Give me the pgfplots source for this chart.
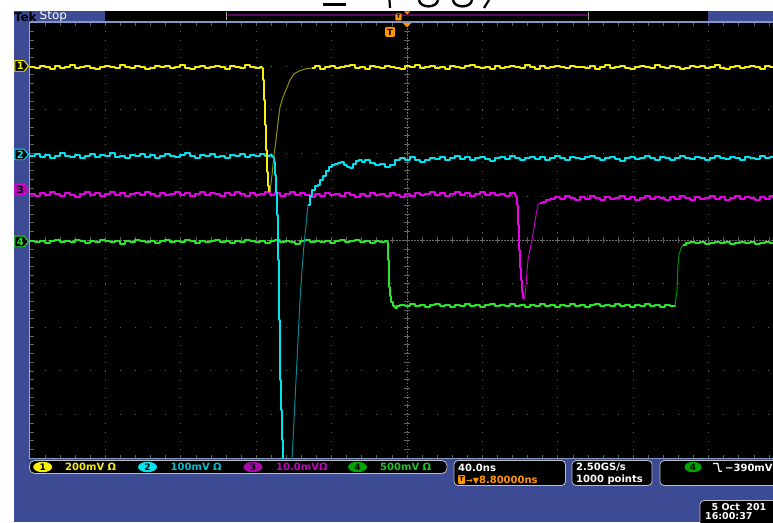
\documentclass[border=0pt]{standalone}
\usepackage{pgfplots}
\pgfplotsset{compat=1.18}
\usepackage{fontspec}
\setmainfont{DejaVu Sans}
\definecolor{tekblue}{RGB}{61,74,148}
\definecolor{tekbord}{RGB}{130,150,195}
\definecolor{gridc}{RGB}{95,95,95}
\definecolor{chA}{RGB}{245,240,10}
\definecolor{chAd}{RGB}{150,145,0}
\definecolor{chB}{RGB}{0,228,240}
\definecolor{chBd}{RGB}{0,135,145}
\definecolor{chC}{RGB}{235,0,235}
\definecolor{chCd}{RGB}{200,0,200}
\definecolor{chD}{RGB}{40,230,40}
\definecolor{chDd}{RGB}{0,150,0}
\definecolor{tekorange}{RGB}{255,150,0}
\definecolor{badgeC}{RGB}{170,10,170}
\definecolor{badgeD}{RGB}{0,165,0}
\definecolor{boxline}{RGB}{190,190,200}
\definecolor{recpurple}{RGB}{90,10,90}
\newcommand{\tekfont}{\fontsize{10}{12}\selectfont\bfseries}
\newcommand{\chmark}[5]{%
 \filldraw[draw=#2, fill=#3, line width=0.9pt] (14.8,#1-5.3) -- (24,#1-5.3) -- (28.5,#1) -- (24,#1+5.3) -- (14.8,#1+5.3) -- cycle;
 \node[text=#4, font=\fontsize{10}{10}\selectfont\bfseries, inner sep=0] at (20.3,#1+0.3) {#5};}
\newcommand{\badge}[4]{%
 \fill[#3] (#1,#2) ellipse (9.5 and 5.2);
 \node[text=black, font=\fontsize{9}{9}\selectfont\bfseries, inner sep=0] at (#1,#2+0.2) {#4};}
\begin{document}
\begin{tikzpicture}[x=1pt,y=1pt]
\useasboundingbox (0,0) rectangle (773,522);
\clip (0,0) rectangle (773,522);
\fill[white] (0,0) rectangle (773,522);
\begin{scope}[shift={(0,522)},yscale=-1]
 % partial title glyphs at the very top
 \draw[black, line width=2.4pt] (323,4.5) -- (346,4.5);
 \draw[black, line width=2.2pt] (389.5,0) -- (390,8);
 \draw[black, line width=2.4pt] (419,0) .. controls (420,8.5) and (437,8.5) .. (438,0);
 \draw[black, line width=2.4pt] (453,0) .. controls (454,8.5) and (471,8.5) .. (472,0);
 \draw[black, line width=2.2pt] (484,8) -- (489,0);
 % frame
 \fill[tekblue] (14,11) rectangle (773,522);
 \fill[black] (105,11.5) rectangle (708,21.5);
 \fill[black] (30,22.5) rectangle (773,458);
 % top bar
 \node[anchor=west, inner sep=0, text=black, font=\fontsize{12}{12}\selectfont\bfseries] at (13.8,17) {Tek};
 \node[anchor=west, inner sep=0, text=white, font=\fontsize{12}{12}\selectfont] at (39.5,16.3) {Stop};
 \draw[gray!70, line width=0.8pt] (226.5,12.5) -- (226.5,20.5);
 \draw[gray!70, line width=0.8pt] (588,12.5) -- (588,20.5);
 \draw[recpurple, line width=2pt] (228,15.5) -- (587,15.5);
 \fill[tekorange] (404,11.5) -- (410,11.5) -- (407,14.5) -- cycle;
 \fill[tekorange, rounded corners=1pt] (395.3,13.5) rectangle (401.5,20.5);
 \node[text=black, font=\fontsize{5.5}{6}\selectfont\bfseries, inner sep=0] at (398.4,17) {T};
 % graticule
 \foreach \k in {1,...,9} {
  \draw[gridc, line width=1pt, dash pattern=on 1pt off 7.71pt] ({30+75.4*\k},22.5) -- ({30+75.4*\k},458);
  \draw[gridc, line width=1pt, dash pattern=on 1pt off 14.08pt] (29.5,{22.5+43.55*\k}) -- (773,{22.5+43.55*\k});
 }
 \draw[gridc!90, line width=0.6pt, dash pattern=on 1.5pt off 1.5pt] (407,22.5) -- (407,458);
 \draw[gridc!90, line width=0.6pt, dash pattern=on 1.5pt off 1.5pt] (30,240.25) -- (773,240.25);
 \foreach \m in {1,...,49} {
  \draw[gridc, line width=0.7pt] (404.3,{22.5+8.71*\m}) -- (409.7,{22.5+8.71*\m});
  \draw[gridc, line width=0.7pt] ({30+15.08*\m},237.5) -- ({30+15.08*\m},243);
  \draw[gridc, line width=0.7pt] ({30+15.08*\m},22.5) -- ++(0,3.5);
  \draw[gridc, line width=0.7pt] ({30+15.08*\m},458) -- ++(0,-3.5);
  \draw[gridc, line width=0.7pt] (30,{22.5+8.71*\m}) -- ++(3.5,0);
 }
 % borders
 \draw[tekbord, line width=1.3pt] (29.5,22) -- (773,22);
 \draw[tekbord, line width=1.3pt] (29.5,458.6) -- (773,458.6);
 \draw[tekbord!80!white, line width=1.2pt] (29.5,22) -- (29.5,458.6);
 % trigger markers
 \fill[tekorange] (402.5,22.8) -- (411.5,22.8) -- (407,27.5) -- cycle;
 \fill[tekorange, rounded corners=1.5pt] (385,27) rectangle (395,37);
 \node[text=black, font=\fontsize{8.5}{9}\selectfont\bfseries, inner sep=0] at (390,32) {T};
 % channel markers
 \chmark{66}{chA}{black}{chA}{1}
 \chmark{154.5}{chB}{black}{chB}{2}
 \chmark{189.5}{chC}{badgeC}{black}{3}
 \chmark{241.5}{chD}{black}{chD}{4}
 % status row
 \draw[boxline, fill=black, rounded corners=5pt, line width=0.8pt] (29.5,460.5) rectangle (447,473.5);
 \badge{42.7}{467}{chA}{1}
 \node[anchor=west, inner sep=0, text=chA, font=\tekfont] at (65,467.2) {200mV Ω};
 \badge{147.5}{467}{chB}{2}
 \node[anchor=west, inner sep=0, text=chB!85!black, font=\tekfont] at (170.5,467.2) {100mV Ω};
 \badge{253}{467}{badgeC}{3}
 \node[anchor=west, inner sep=0, text=chC!85!black, font=\tekfont] at (276,467.2) {10.0mVΩ};
 \badge{357.5}{467}{badgeD}{4}
 \node[anchor=west, inner sep=0, text=chD!85!black, font=\tekfont] at (380,467.2) {500mV Ω};
 % timebase box
 \draw[boxline, fill=black, rounded corners=4pt, line width=0.8pt] (454,460.5) rectangle (565.5,485.5);
 \node[anchor=west, inner sep=0, text=white, font=\tekfont] at (458,467.5) {40.0ns};
 \fill[tekorange, rounded corners=1pt] (458,475) rectangle (465,484);
 \node[text=black, font=\fontsize{6.5}{7}\selectfont\bfseries, inner sep=0] at (461.5,479.5) {T};
 \node[anchor=west, inner sep=0, text=tekorange, font=\tekfont] at (466,479.8) {{\fontsize{8}{9}\selectfont →▼}8.80000ns};
 % sample box
 \draw[boxline, fill=black, rounded corners=4pt, line width=0.8pt] (572,460.5) rectangle (652,485.5);
 \node[anchor=west, inner sep=0, text=white, font=\tekfont] at (576,467.5) {2.50GS/s};
 \node[anchor=west, inner sep=0, text=white, font=\tekfont] at (576,479.8) {1000 points};
 % trigger box
 \draw[boxline, fill=black, rounded corners=4pt, line width=0.8pt] (660,460.5) rectangle (800,485.5);
 \fill[badgeD] (693,467) ellipse (8.5 and 5.2);
 \node[text=black, font=\fontsize{9}{9}\selectfont\bfseries, inner sep=0] at (693,467.2) {4};
 \draw[white, line width=1.2pt] (713,463.5) -- (717.8,463.5) -- (719.2,471.2) -- (722,471.2);
 \node[anchor=west, inner sep=0, text=white, font=\tekfont] at (725,467.5) {−390mV};
 % date box
 \draw[boxline, fill=black, rounded corners=4pt, line width=0.8pt] (700,500.5) rectangle (800,535);
 \node[anchor=west, inner sep=0, text=white, font=\fontsize{9.5}{11}\selectfont\bfseries] at (711.5,507) {5 Oct \ 201};
 \node[anchor=west, inner sep=0, text=white, font=\fontsize{9.5}{11}\selectfont\bfseries] at (705,516.5) {16:00:37};
\end{scope}
\begin{axis}[at={(401.5pt,281.75pt)}, anchor=center, width=743pt, height=435.5pt,
  scale only axis, xmin=30, xmax=773, ymin=22.5, ymax=458, y dir=reverse,
  hide axis, clip=true]
% ---- channel 4 (green)
\addplot[chD, line width=1.6pt, const plot, line join=round] coordinates {
(30,241)(35,242)(40,241)(45,243)(50,241)(55,240)(60,242)(65,241)(70,242)(75,240)(80,241)(85,243)(90,241)(95,242)(100,240)(105,241)(110,242)(115,241)(120,244)(125,241)(130,242)(135,240)(140,241)(145,242)(150,241)(155,243)(160,241)(165,240)(170,242)(175,241)(180,242)(185,240)(190,241)(195,243)(200,241)(205,242)(210,241)(215,240)(220,242)(225,241)(230,243)(235,241)(240,242)(245,240)(250,241)(255,242)(260,241)(265,243)(270,241)(275,240)(280,242)(285,241)(290,242)(295,244)(300,241)(305,240)(310,242)(315,241)(320,242)(325,241)(330,243)(335,241)(340,240)(345,242)(350,241)(355,240)(360,242)(365,241)(370,243)(375,241)(380,242)(385,241)
(387,242)(388,260)(389,287)(390,296)(391,302)(393,306)(395,308)(397,306)(400,305)
(405,306)(410,304)(415,306)(420,305)(425,307)(430,305)(435,304)(440,306)(445,305)(450,307)(455,305)(460,306)(465,304)(470,306)(475,305)(480,307)(485,305)(490,304)(495,306)(500,305)(505,306)(510,304)(515,306)(520,305)(525,307)(530,305)(535,306)(540,304)(545,306)(550,305)(555,307)(560,305)(565,306)(570,304)(575,306)(580,305)(585,307)(590,305)(595,304)(600,306)(605,305)(610,306)(615,304)(620,306)(625,305)(630,307)(635,305)(640,306)(645,304)(650,306)(655,305)(660,307)(665,305)(670,306)(675,305)};
\addplot[chDd, line width=1pt, line join=round] coordinates {
(675,305)(677,290)(678,265)(679,255)(681,248)(683,245)};
\addplot[chD, line width=1.6pt, const plot, line join=round] coordinates {
(683,245)(686,243)(690,242)(695,243)(700,242)(705,244)(710,243)(715,242)(720,243)(725,242)(730,244)(735,243)(740,242)(745,243)(750,242)(755,244)(760,243)(765,242)(770,243)(773,242)};
% ---- channel 3 (magenta)
\addplot[chC, line width=1.6pt, const plot, line join=round] coordinates {
(30,194)(35,196)(40,193)(45,195)(50,192)(55,194)(60,196)(65,193)(70,195)(75,197)(80,194)(85,192)(90,195)(95,193)(100,196)(105,194)(110,192)(115,195)(120,193)(125,196)(130,194)(135,193)(140,195)(145,192)(150,194)(155,196)(160,193)(165,195)(170,194)(175,192)(180,195)(185,193)(190,196)(195,194)(200,192)(205,195)(210,193)(215,194)(220,196)(225,193)(230,195)(235,192)(240,194)(245,196)(250,193)(255,195)(260,194)(265,192)(270,195)(275,193)(280,196)(285,194)(290,192)(295,195)(300,193)(305,195)(310,197)(315,194)(320,196)(325,193)(330,195)(335,194)(340,196)(345,193)(350,195)(355,197)(360,194)(365,196)(370,193)(375,195)(380,194)(385,196)(390,193)(395,195)(400,197)(405,194)(410,196)(415,193)(420,195)(425,194)(430,192)(435,195)(440,193)(445,196)(450,194)(455,192)(460,195)(465,193)(470,196)(475,194)(480,192)(485,195)(490,193)(495,195)(500,194)(505,196)(510,193)(515,195)
(516,197)(517,205)(518,225)(519,250)(520,268)(521,280)(522,292)(523,298)(524,299)};
\addplot[chCd, line width=0.9pt, line join=round] coordinates {
(524,299)(525,296)(526,285)(527,272)(528,260)(530,250)(532,240)(534,228)(536,215)(538,205)(540,203)};
\addplot[chC, line width=1.6pt, const plot, line join=round] coordinates {
(540,203)(543,202)(546,200)(550,199)(555,197)(560,199)(565,196)(570,198)(575,200)(580,197)(585,199)(590,196)(595,198)(600,200)(605,197)(610,199)(615,198)(620,196)(625,199)(630,197)(635,200)(640,198)(645,196)(650,199)(655,197)(660,198)(665,200)(670,197)(675,199)(680,196)(685,198)(690,200)(695,197)(700,199)(705,198)(710,196)(715,199)(720,197)(725,200)(730,198)(735,196)(740,199)(745,197)(750,198)(755,200)(760,197)(765,199)(770,196)(773,198)};
% ---- channel 2 (cyan)
\addplot[chB, line width=1.6pt, const plot, line join=round] coordinates {
(30,156)(35,154)(40,157)(45,155)(50,158)(55,156)(60,153)(65,156)(70,157)(75,155)(80,158)(85,156)(90,154)(95,157)(100,155)(105,156)(110,153)(115,157)(120,156)(125,158)(130,155)(135,156)(140,154)(145,157)(150,155)(155,158)(160,156)(165,154)(170,156)(175,157)(180,155)(185,153)(190,156)(195,158)(200,155)(205,156)(210,154)(215,157)(220,156)(225,158)(230,155)(235,156)(240,154)(245,157)(250,155)(255,156)(260,154)(265,156)(270,155)
(272,157)(274,162)(275,175)(276,192)(277,215)(278,260)(279,320)(280,380)(281,410)(282,440)(283,480)(285,520)};
\addplot[chBd, line width=1pt, line join=round] coordinates {
(287,520)(291,480)(293,440)(295,400)(297,360)(299,320)(300,300)(302,270)(304,245)(306,225)(308,205)};
\addplot[chB, line width=1.6pt, const plot, line join=round] coordinates {
(308,205)(310,196)(312,190)(315,186)(318,185)(320,180)(323,176)(326,171)(329,167)(332,165)(335,164)(338,163)(341,162)(344,165)(347,167)(350,168)(353,164)(356,161)(359,160)(362,162)
(365,160)(370,163)(375,165)(380,164)(385,167)(390,165)(395,160)(400,158)(405,160)(410,157)(415,160)(420,162)(425,160)(430,158)(435,159)(440,157)(445,160)(450,158)(455,156)(460,159)(465,157)(470,160)(475,158)(480,157)(485,159)(490,161)(495,158)(500,157)(505,159)(510,156)(515,158)(520,160)(525,158)(530,157)(535,159)(540,157)(545,160)(550,158)(555,156)(560,158)(565,160)(570,157)(575,158)(580,159)(585,157)(590,156)(595,158)(600,160)(605,158)(610,157)(615,159)(620,161)(625,158)(630,157)(635,159)(640,158)(645,156)(650,158)(655,160)(660,157)(665,158)(670,160)(675,158)(680,156)(685,158)(690,159)(695,157)(700,158)(705,160)(710,158)(715,156)(720,158)(725,159)(730,157)(735,158)(740,160)(745,157)(750,158)(755,159)(760,156)(765,158)(770,157)(773,158)};
% ---- channel 1 (yellow)
\addplot[chA, line width=1.6pt, const plot, line join=round] coordinates {
(30,67)(35,68)(40,66)(45,67)(50,69)(55,66)(60,68)(65,67)(70,65)(75,68)(80,67)(85,66)(90,68)(95,69)(100,67)(105,66)(110,67)(115,68)(120,65)(125,67)(130,68)(135,66)(140,67)(145,69)(150,68)(155,66)(160,67)(165,66)(170,68)(175,67)(180,65)(185,68)(190,69)(195,67)(200,66)(205,68)(210,67)(215,66)(220,67)(225,69)(230,66)(235,67)(240,68)(245,65)(250,67)(255,68)(260,67)
(262,68)(263,80)(264,100)(265,125)(266,150)(267,172)(268,186)(269,191)(270,192)};
\addplot[chAd, line width=1pt, line join=round] coordinates {
(270,192)(272,175)(274,155)(276,140)(278,122)(280,107)(283,97)(286,90)(290,80)(294,74)(299,71)(305,69)(312,68)};
\addplot[chA, line width=1.6pt, const plot, line join=round] coordinates {
(312,68)(315,66)(320,69)(325,67)(330,66)(335,68)(340,67)(345,66)(350,65)(355,68)(360,67)(365,69)(370,66)(375,67)(380,68)(385,66)(390,67)(395,68)(400,69)(405,66)(410,67)(415,65)(420,68)(425,67)(430,66)(435,68)(440,67)(445,69)(450,66)(455,67)(460,68)(465,66)(470,65)(475,67)(480,68)(485,67)(490,69)(495,66)(500,68)(505,67)(510,66)(515,67)(520,68)(525,65)(530,67)(535,69)(540,66)(545,68)(550,67)(555,66)(560,67)(565,68)(570,66)(575,67)(580,67)(585,68)(590,66)(595,69)(600,67)(605,65)(610,68)(615,67)(620,66)(625,68)(630,69)(635,67)(640,66)(645,67)(650,68)(655,65)(660,67)(665,68)(670,66)(675,67)(680,69)(685,68)(690,66)(695,67)(700,66)(705,68)(710,67)(715,65)(720,68)(725,69)(730,67)(735,66)(740,68)(745,67)(750,66)(755,67)(760,69)(765,66)(770,67)(773,68)};
\end{axis}
\end{tikzpicture}
\end{document}
